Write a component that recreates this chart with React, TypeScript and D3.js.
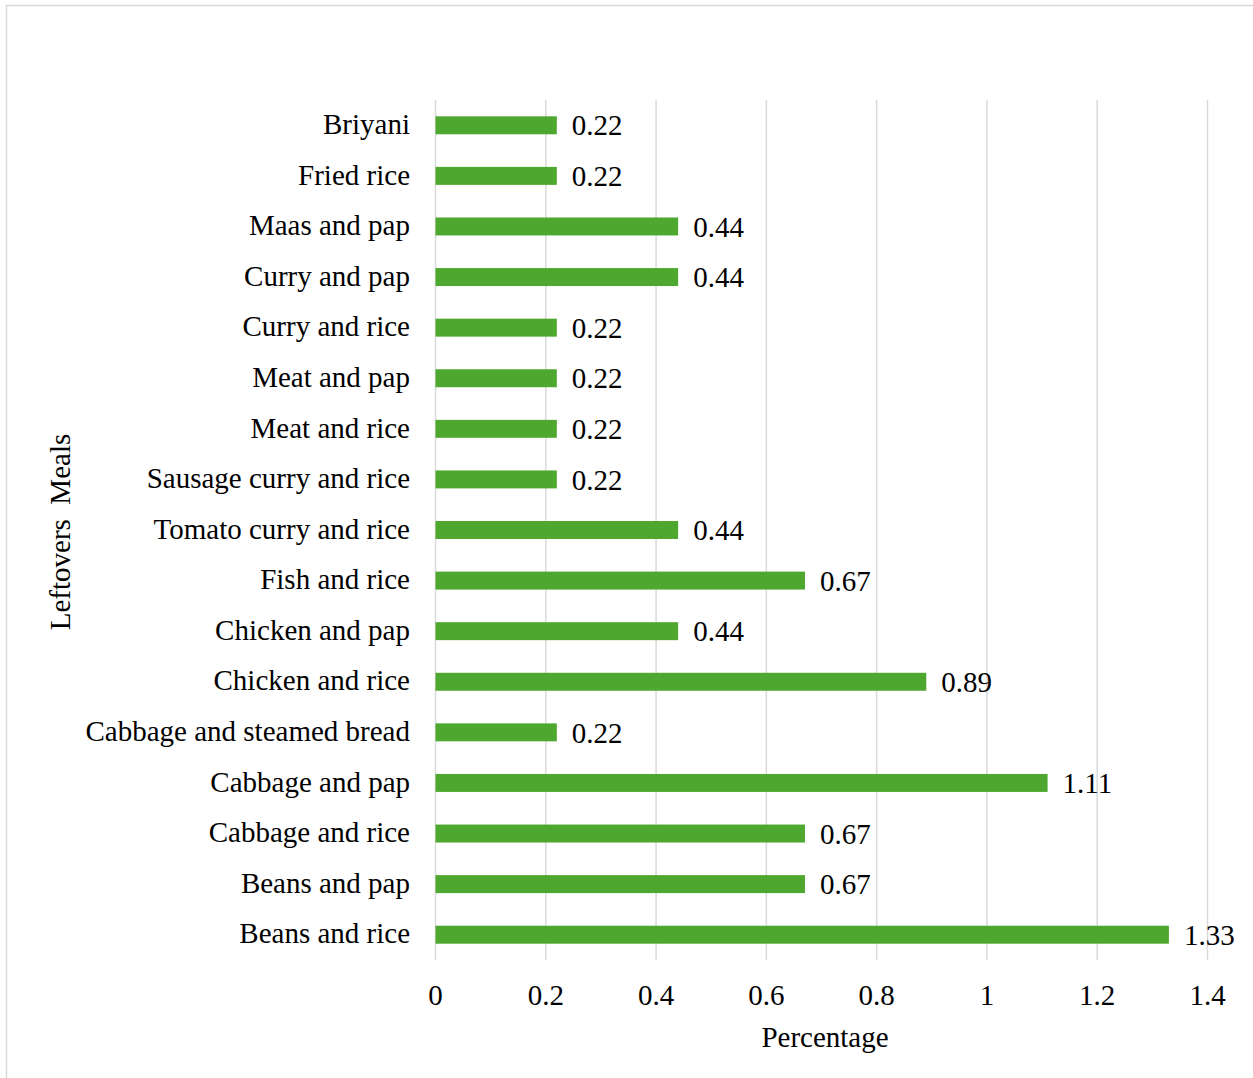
import React from "react";
import * as d3 from "d3";

const meals = [
  "Briyani",
  "Fried rice",
  "Maas and pap",
  "Curry and pap",
  "Curry and rice",
  "Meat and pap",
  "Meat and rice",
  "Sausage curry and rice",
  "Tomato curry and rice",
  "Fish and rice",
  "Chicken and pap",
  "Chicken and rice",
  "Cabbage and steamed bread",
  "Cabbage and pap",
  "Cabbage and rice",
  "Beans and pap",
  "Beans and rice",
];
const percentages = [
  0.22, 0.22, 0.44, 0.44, 0.22, 0.22, 0.22, 0.22, 0.44, 0.67, 0.44, 0.89, 0.22,
  1.11, 0.67, 0.67, 1.33,
];
const xTicks = [0, 0.2, 0.4, 0.6, 0.8, 1, 1.2, 1.4];

const W = 1253;
const H = 1078;
const FONT = "'Times New Roman', 'Liberation Serif', serif";
const FS = 29;

export default function App() {
  const x = d3.scaleLinear().domain([0, 1.4]).range([435.5, 1207.5]);
  const y = d3
    .scaleBand<string>()
    .domain(meals)
    .range([100, 960])
    .paddingInner(0.645)
    .paddingOuter(0.3225);
  const bw = y.bandwidth();

  return (
    <svg
      width={W}
      height={H}
      style={{ position: "absolute", left: 0, top: 0, background: "#fff" }}
    >
      <rect x={6.5} y={5.5} width={W + 10} height={H + 10} fill="#fff" stroke="#d9d9d9" strokeWidth={1.5} />
      {xTicks.map((t) => (
        <line key={t} x1={x(t)} x2={x(t)} y1={100} y2={960} stroke="#d9d9d9" strokeWidth={1.5} />
      ))}
      {meals.map((m, i) => (
        <g key={m}>
          <rect
            x={x(0)}
            y={y(m)!}
            width={x(percentages[i]) - x(0)}
            height={bw}
            fill="#4ea72e"
          />
          <text
            x={x(percentages[i]) + 15}
            y={y(m)! + bw / 2}
            dy="0.35em"
            fontFamily={FONT}
            fontSize={FS}
            fill="#000"
          >
            {percentages[i].toFixed(2)}
          </text>
          <text
            x={410}
            y={y(m)! + bw / 2}
            dy="0.3em"
            textAnchor="end"
            fontFamily={FONT}
            fontSize={FS}
            fill="#000"
          >
            {m}
          </text>
        </g>
      ))}
      {xTicks.map((t) => (
        <text
          key={t}
          x={x(t)}
          y={995}
          dy="0.35em"
          textAnchor="middle"
          fontFamily={FONT}
          fontSize={FS}
          fill="#000"
        >
          {String(t)}
        </text>
      ))}
      <text
        x={825}
        y={1037}
        dy="0.35em"
        textAnchor="middle"
        fontFamily={FONT}
        fontSize={FS}
        fill="#000"
      >
        Percentage
      </text>
      <text
        transform="translate(60,532) rotate(-90)"
        dy="0.35em"
        textAnchor="middle"
        fontFamily={FONT}
        fontSize={FS}
        fill="#000"
        style={{ whiteSpace: "pre" }}
      >
        {"Leftovers  Meals"}
      </text>
    </svg>
  );
}
